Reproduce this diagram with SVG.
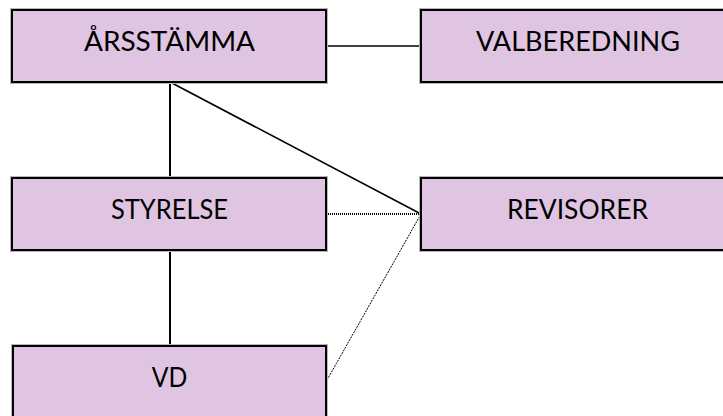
<svg xmlns="http://www.w3.org/2000/svg" width="723" height="416" viewBox="0 0 723 416">
<style>
.box{fill:#DFC5E2;stroke:#000;stroke-width:2}
.halo{fill:none;stroke:#b8b8b8;stroke-width:4}
.lbl{font-family:Lato,"Open Sans","Liberation Sans",sans-serif;font-size:27px;fill:#000;text-anchor:middle}
.c{stroke:#000;fill:none}
</style>
<rect width="723" height="416" fill="#fff"/>
<g id="connectors">
<line class="c" x1="326" y1="46" x2="421" y2="46" stroke-width="1.6"/>
<line class="c" x1="170" y1="82" x2="170" y2="178" stroke-width="2"/>
<line class="c" x1="170" y1="82" x2="421" y2="214" stroke-width="1.6"/>
<line class="c" x1="326" y1="214" x2="421" y2="214" stroke-width="1.8" stroke-dasharray="1 1"/>
<line class="c" x1="327" y1="380" x2="421" y2="214" stroke-width="1" stroke-dasharray="2 1"/>
<line class="c" x1="170" y1="250" x2="170" y2="346" stroke-width="2"/>
</g>
<g id="arsstamma">
<rect class="halo" x="12" y="10" width="314" height="72"/>
<rect class="box" x="12" y="10" width="314" height="72"/>
<text class="lbl" x="169.5" y="51" textLength="171" lengthAdjust="spacingAndGlyphs">ÅRSSTÄMMA</text>
</g>
<g id="valberedning">
<rect class="halo" x="421" y="10" width="320" height="72"/>
<rect class="box" x="421" y="10" width="320" height="72"/>
<text class="lbl" x="578" y="51" textLength="204" lengthAdjust="spacingAndGlyphs">VALBEREDNING</text>
</g>
<g id="styrelse">
<rect class="halo" x="12" y="178" width="314" height="72"/>
<rect class="box" x="12" y="178" width="314" height="72"/>
<text class="lbl" x="169.5" y="218.5" textLength="117" lengthAdjust="spacingAndGlyphs">STYRELSE</text>
</g>
<g id="revisorer">
<rect class="halo" x="421" y="178" width="320" height="72"/>
<rect class="box" x="421" y="178" width="320" height="72"/>
<text class="lbl" x="577.5" y="218.5" textLength="141" lengthAdjust="spacingAndGlyphs">REVISORER</text>
</g>
<g id="vd">
<rect class="halo" x="13" y="346" width="313" height="80"/>
<rect class="box" x="13" y="346" width="313" height="80"/>
<text class="lbl" x="169.5" y="386.5" textLength="35.5" lengthAdjust="spacingAndGlyphs">VD</text>
</g>
</svg>
